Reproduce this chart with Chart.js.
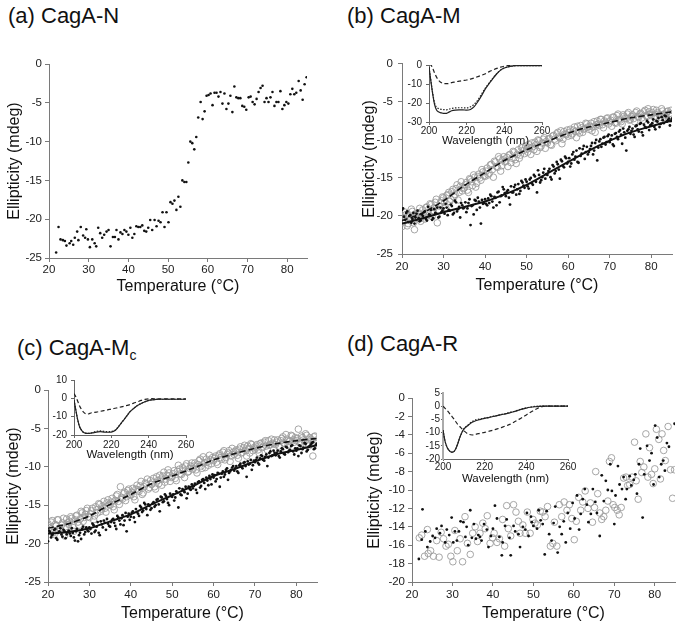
<!DOCTYPE html>
<html>
<head>
<meta charset="utf-8">
<script src="https://cdn.jsdelivr.net/npm/chart.js@4.4.1/dist/chart.umd.min.js"></script>
<style>
  body { margin: 0; background: #fff; width: 683px; height: 628px; position: relative; overflow: hidden; font-family: 'Liberation Sans', Arial, sans-serif; }
  .panel { position: absolute; }
  .ttl { position: absolute; font-size: 22px; line-height: 1; color: #111; white-space: nowrap; }
  .ttl sub { font-size: 14px; vertical-align: -5px; line-height: 0; }
</style>
</head>
<body>
<div class="ttl" style="left:8px;top:5px">(a) CagA-N</div>
<div class="ttl" style="left:347px;top:5px">(b) CagA-M</div>
<div class="ttl" style="left:17px;top:337px">(c) CagA-M<sub>c</sub></div>
<div class="ttl" style="left:347px;top:333px">(d) CagA-R</div>
<script>
// ---- tick labels ----
const tempTicks = [20, 30, 40, 50, 60, 70, 80];
const ellipTicks = [-25, -20, -15, -10, -5, 0];
const ellipTicksD = [-20, -18, -16, -14, -12, -10, -8, -6, -4, -2, 0];
const waveTicks = [200, 220, 240, 260];
const insetTicksB = [-30, -20, -10, 0];
const insetTicksC = [-20, -10, 0, 10];
const insetTicksD = [-20, -15, -10, -5, 0, 5];

// ---- (a) CagA-N ----
const aTemp = [21.8,22.4,22.9,23.5,24.0,24.4,25.2,25.6,26.1,26.5,
  27.1,27.4,28.0,28.6,29.1,29.4,29.8,30.3,30.9,31.5,
  31.9,32.4,32.9,33.4,33.9,34.5,35.0,35.5,36.1,36.6,
  37.0,37.5,38.0,38.5,39.0,39.5,40.0,40.5,41.0,41.5,
  42.0,42.5,43.0,43.5,44.0,44.5,45.0,45.5,46.0,46.6,
  47.1,47.6,48.1,48.6,49.1,49.6,50.1,50.6,51.1,51.6,
  52.1,52.6,53.1,53.6,54.1,54.6,55.1,55.6,56.1,56.6,
  57.1,57.6,58.2,58.7,59.2,59.7,60.2,60.7,61.2,61.7,
  62.2,62.7,63.2,63.7,64.2,64.7,65.2,65.7,66.2,66.7,
  67.2,67.7,68.2,68.7,69.2,69.7,70.3,70.8,71.3,71.8,
  72.3,72.8,73.3,73.8,74.3,74.8,75.3,75.8,76.3,76.8,
  77.3,77.8,78.3,78.8,79.3,79.8,80.3,80.8,81.3,81.8,
  82.3,82.9,83.4,83.9,84.4,84.9];
const aVal = [-24.3,-21.0,-22.6,-22.7,-22.8,-23.4,-23.1,-22.8,-23.3,-22.4,
  -21.6,-22.7,-21.0,-22.1,-22.4,-21.3,-22.6,-23.6,-22.6,-23.1,
  -23.5,-21.1,-21.8,-22.4,-22.0,-21.6,-21.4,-23.5,-22.3,-22.3,
  -21.4,-22.6,-21.7,-21.9,-21.4,-21.6,-22.0,-21.1,-22.4,-21.9,
  -20.9,-21.0,-21.0,-20.8,-21.5,-21.6,-21.1,-20.1,-21.4,-20.1,
  -20.9,-20.2,-20.4,-19.1,-21.0,-19.1,-20.4,-17.8,-18.0,-17.6,
  -18.8,-17.1,-18.4,-15.0,-15.2,-15.2,-12.7,-10.0,-10.2,-11.0,
  -9.4,-6.9,-4.9,-7.1,-6.1,-4.1,-4.0,-3.8,-5.3,-3.7,
  -3.7,-4.2,-3.6,-5.1,-3.8,-5.8,-5.1,-4.1,-6.2,-2.9,
  -4.3,-4.4,-4.4,-5.4,-5.5,-5.9,-4.3,-4.2,-4.9,-5.2,
  -4.5,-3.6,-3.1,-2.8,-4.9,-4.4,-4.9,-4.3,-3.6,-5.4,
  -4.9,-4.9,-3.5,-5.8,-5.3,-4.9,-5.1,-3.9,-3.2,-3.9,
  -3.7,-2.2,-3.4,-4.6,-2.6,-1.7];

// ---- temperature scan grids for (b) and (c): two interleaved scans ----
const tempsScan = [20,20.5,21,21.5,22,22.5,23,23.5,24,24.5,
  25,25.5,26,26.5,27,27.5,28,28.5,29,29.5,
  30,30.5,31,31.5,32,32.5,33,33.5,34,34.5,
  35,35.5,36,36.5,37,37.5,38,38.5,39,39.5,
  40,40.5,41,41.5,42,42.5,43,43.5,44,44.5,
  45,45.5,46,46.5,47,47.5,48,48.5,49,49.5,
  50,50.5,51,51.5,52,52.5,53,53.5,54,54.5,
  55,55.5,56,56.5,57,57.5,58,58.5,59,59.5,
  60,60.5,61,61.5,62,62.5,63,63.5,64,64.5,
  65,65.5,66,66.5,67,67.5,68,68.5,69,69.5,
  70,70.5,71,71.5,72,72.5,73,73.5,74,74.5,
  75,75.5,76,76.5,77,77.5,78,78.5,79,79.5,
  80,80.5,81,81.5,82,82.5,83,83.5,84,84.5,
  85];
const tempsScan2 = [20.25,20.75,21.25,21.75,22.25,22.75,23.25,23.75,24.25,24.75,
  25.25,25.75,26.25,26.75,27.25,27.75,28.25,28.75,29.25,29.75,
  30.25,30.75,31.25,31.75,32.25,32.75,33.25,33.75,34.25,34.75,
  35.25,35.75,36.25,36.75,37.25,37.75,38.25,38.75,39.25,39.75,
  40.25,40.75,41.25,41.75,42.25,42.75,43.25,43.75,44.25,44.75,
  45.25,45.75,46.25,46.75,47.25,47.75,48.25,48.75,49.25,49.75,
  50.25,50.75,51.25,51.75,52.25,52.75,53.25,53.75,54.25,54.75,
  55.25,55.75,56.25,56.75,57.25,57.75,58.25,58.75,59.25,59.75,
  60.25,60.75,61.25,61.75,62.25,62.75,63.25,63.75,64.25,64.75,
  65.25,65.75,66.25,66.75,67.25,67.75,68.25,68.75,69.25,69.75,
  70.25,70.75,71.25,71.75,72.25,72.75,73.25,73.75,74.25,74.75,
  75.25,75.75,76.25,76.75,77.25,77.75,78.25,78.75,79.25,79.75,
  80.25,80.75,81.25,81.75,82.25,82.75,83.25,83.75,84.25,84.75];
const fitTemps = [20, 25, 30, 35, 40, 45, 50, 55, 60, 65, 70, 75, 80, 85];

// ---- (b) CagA-M ----
const bFilled = [-19.2,-20.1,-19.6,-20.8,-19.9,-20.4,-21.0,-19.7,-20.3,-20.6,
  -20.0,-19.4,-20.6,-19.8,-19.2,-20.3,-19.6,-18.9,-20.1,-19.5,
  -19.0,-18.4,-19.9,-19.3,-18.7,-19.6,-18.2,-19.1,-20.2,-18.6,
  -18.9,-19.5,-18.3,-21.2,-18.6,-17.9,-19.2,-18.1,-21.0,-18.4,
  -17.8,-18.6,-18.3,-17.4,-18.9,-17.6,-16.9,-18.2,-17.3,-16.5,
  -17.4,-16.6,-18.5,-16.9,-16.2,-17.2,-15.8,-16.7,-15.6,-16.3,
  -15.5,-16.4,-15.0,-15.9,-14.8,-16.9,-14.6,-15.3,-14.3,-15.1,
  -14.6,-13.8,-15.2,-13.5,-14.1,-13.2,-15.1,-12.8,-13.6,-12.4,
  -12.9,-13.5,-11.9,-12.6,-11.4,-13.0,-12.1,-11.2,-12.5,-10.9,
  -11.6,-10.8,-11.9,-10.4,-12.7,-10.2,-10.9,-9.7,-10.6,-9.5,
  -10.3,-9.4,-10.8,-9.1,-9.9,-8.7,-10.5,-9.0,-11.4,-8.6,
  -9.2,-8.5,-9.6,-8.1,-8.9,-7.8,-9.4,-8.3,-7.5,-8.7,
  -8.0,-7.3,-8.6,-7.6,-8.3,-7.0,-7.8,-6.9,-7.4,-8.1,
  -7.2];
const bFilled2 = [-19.0,-20.5,-19.4,-20.0,-20.9,-19.6,-20.2,-19.3,-20.7,-19.8,
  -19.5,-20.4,-18.8,-19.9,-20.5,-19.1,-19.7,-20.2,-18.9,-19.3,
  -19.7,-18.9,-19.2,-18.5,-19.8,-18.0,-19.4,-18.8,-18.3,-19.0,
  -18.2,-19.0,-17.8,-18.7,-19.8,-18.0,-17.6,-18.9,-17.9,-18.3,
  -18.4,-17.7,-17.2,-18.1,-17.5,-18.6,-16.8,-17.4,-16.2,-17.0,
  -16.8,-17.6,-16.1,-16.9,-15.9,-16.5,-17.1,-15.4,-16.0,-15.2,
  -16.1,-15.2,-15.7,-14.6,-15.5,-14.0,-15.6,-14.9,-13.8,-14.5,
  -14.1,-14.9,-13.3,-14.4,-12.9,-13.9,-12.6,-13.4,-12.2,-13.1,
  -12.4,-13.1,-11.6,-12.2,-12.9,-11.1,-11.8,-10.8,-11.6,-11.9,
  -11.2,-10.4,-11.4,-10.0,-11.0,-9.9,-10.5,-9.6,-10.3,-9.3,
  -9.9,-10.6,-9.2,-9.6,-8.9,-9.3,-8.5,-9.7,-8.8,-8.3,
  -8.8,-9.3,-8.2,-8.6,-7.9,-9.0,-8.0,-8.4,-7.7,-8.1,
  -7.8,-8.3,-7.5,-7.1,-7.9,-7.4,-6.8,-7.6,-7.2,-7.5];
const bOpen = [-21.4,-20.2,-19.8,-21.0,-20.5,-19.4,-21.8,-20.1,-19.6,-20.7,
  -19.2,-20.4,-18.8,-19.9,-18.5,-19.3,-18.2,-20.9,-18.7,-18.0,
  -17.6,-18.9,-17.2,-18.1,-16.8,-17.5,-16.4,-17.9,-16.1,-16.7,
  -16.3,-15.6,-16.9,-15.2,-16.0,-14.9,-15.7,-14.5,-15.3,-14.2,
  -14.8,-13.7,-14.4,-13.2,-14.9,-12.9,-13.6,-12.5,-13.4,-12.2,
  -12.8,-13.5,-11.9,-12.4,-11.6,-13.1,-11.3,-12.0,-11.0,-11.8,
  -11.2,-10.6,-11.9,-10.9,-10.3,-11.5,-10.1,-10.8,-9.9,-11.1,
  -10.4,-9.8,-10.7,-9.4,-10.1,-9.0,-9.7,-10.5,-8.9,-9.3,
  -9.5,-8.6,-9.2,-8.3,-9.7,-8.8,-8.1,-9.0,-8.5,-7.9,
  -8.6,-7.8,-8.3,-9.0,-7.5,-8.1,-7.3,-8.4,-7.7,-7.1,
  -7.6,-8.2,-7.0,-7.8,-6.6,-7.4,-7.9,-6.9,-7.2,-6.4,
  -7.3,-6.7,-7.6,-6.2,-7.0,-6.5,-7.4,-6.1,-6.9,-6.3,
  -6.8,-6.0,-7.2,-6.4,-6.7,-5.9,-6.6,-7.1,-6.2,-6.5,
  -6.9];
const bOpen2 = [-20.8,-19.5,-21.3,-20.0,-19.1,-20.9,-19.8,-20.3,-19.0,-20.1,
  -19.9,-18.9,-19.5,-18.4,-20.1,-18.9,-17.8,-19.2,-18.3,-17.5,
  -18.2,-17.3,-16.9,-17.8,-16.5,-17.2,-15.9,-16.9,-15.5,-16.4,
  -15.9,-16.6,-15.1,-15.5,-14.6,-16.2,-14.8,-15.0,-13.9,-14.7,
  -14.1,-14.6,-13.3,-13.9,-12.8,-13.5,-12.2,-14.1,-12.6,-12.9,
  -12.3,-12.0,-13.0,-11.5,-12.6,-11.9,-12.4,-11.0,-11.4,-10.8,
  -11.6,-11.0,-10.4,-11.3,-10.6,-10.0,-11.0,-10.4,-9.7,-10.2,
  -9.9,-10.6,-9.5,-9.9,-9.2,-9.6,-8.8,-9.9,-9.2,-8.7,
  -9.0,-9.4,-8.7,-8.9,-8.2,-9.1,-8.4,-8.6,-7.8,-8.3,
  -8.2,-8.8,-7.6,-8.0,-7.9,-7.3,-8.0,-7.5,-7.2,-7.9,
  -7.4,-7.0,-7.7,-6.8,-7.3,-7.6,-6.7,-7.1,-6.6,-7.4,
  -6.9,-7.2,-6.4,-6.9,-6.6,-7.1,-6.3,-6.8,-5.9,-6.6,
  -6.4,-6.9,-6.1,-6.6,-7.0,-6.2,-6.8,-6.3,-7.3,-6.1];
const bFitFilled = [-21.0, -20.3, -19.5, -18.8, -18.1, -17.1, -15.9, -14.4, -12.9, -11.4, -10.1, -9.0, -8.2, -7.4];
const bFitOpen = [-20.6, -19.6, -18.0, -16.0, -14.3, -12.6, -11.3, -10.2, -9.1, -8.3, -7.7, -7.1, -6.7, -6.3];

// ---- (c) CagA-Mc ----
const cFilled = [-19.7,-18.5,-18.9,-18.2,-19.3,-18.6,-18.0,-19.1,-18.4,-18.8,
  -18.3,-19.0,-18.6,-19.6,-18.1,-18.9,-19.4,-17.8,-18.5,-18.2,
  -17.9,-18.7,-17.6,-18.3,-17.2,-18.9,-17.5,-17.0,-18.2,-17.4,
  -17.8,-16.9,-17.3,-18.1,-16.6,-17.5,-16.3,-17.0,-18.4,-16.1,
  -16.5,-15.8,-17.2,-15.9,-16.4,-15.3,-15.7,-14.9,-16.3,-15.1,
  -15.4,-14.6,-15.0,-14.2,-15.8,-14.0,-14.5,-13.8,-14.7,-13.5,
  -13.9,-14.4,-13.2,-15.3,-13.6,-12.9,-13.3,-14.1,-12.6,-13.0,
  -12.8,-12.2,-13.4,-11.9,-12.5,-11.6,-12.9,-11.8,-11.2,-12.3,
  -11.4,-11.9,-10.8,-12.6,-10.9,-11.3,-10.4,-11.7,-10.6,-10.1,
  -10.5,-9.9,-10.8,-9.6,-10.2,-9.4,-11.3,-9.7,-9.1,-9.8,
  -9.4,-8.8,-9.7,-8.5,-9.1,-8.7,-9.9,-8.2,-8.6,-7.9,
  -8.5,-7.9,-8.8,-7.6,-8.3,-7.4,-8.1,-7.8,-7.2,-8.4,
  -7.9,-8.6,-7.3,-7.7,-6.9,-8.0,-7.4,-7.1,-6.8,-7.6,
  -7.0];
const cFilled2 = [-18.3,-19.2,-18.7,-18.1,-19.5,-18.4,-18.8,-18.2,-19.3,-18.5,
  -18.7,-18.0,-19.2,-18.4,-19.7,-18.6,-18.1,-18.8,-17.9,-18.4,
  -18.1,-17.4,-18.5,-17.8,-18.6,-17.1,-17.9,-17.3,-16.8,-17.7,
  -17.2,-16.8,-17.7,-16.4,-17.0,-16.7,-17.6,-16.0,-16.5,-16.9,
  -16.0,-16.6,-15.5,-16.1,-15.1,-15.9,-14.7,-15.5,-14.9,-15.6,
  -14.8,-15.2,-14.3,-14.9,-13.9,-14.6,-13.6,-14.2,-15.0,-13.8,
  -13.6,-14.0,-13.4,-12.8,-13.7,-13.1,-12.6,-13.5,-12.9,-12.3,
  -12.5,-13.0,-12.0,-12.7,-11.7,-12.1,-11.4,-12.4,-11.6,-11.0,
  -11.1,-11.6,-10.9,-11.4,-10.6,-11.0,-10.2,-10.8,-10.4,-9.9,
  -10.2,-10.6,-9.8,-10.0,-9.5,-9.9,-9.3,-9.6,-10.4,-9.2,
  -9.1,-9.5,-8.9,-8.6,-9.2,-8.4,-8.8,-8.0,-8.5,-8.2,
  -8.2,-8.6,-8.0,-7.7,-8.4,-7.5,-7.9,-7.3,-8.0,-7.6,
  -7.6,-7.2,-8.2,-7.5,-7.0,-7.8,-7.3,-6.9,-7.7,-7.1];
const cOpen = [-17.4,-18.3,-17.0,-18.8,-17.7,-16.9,-18.1,-17.3,-19.0,-16.8,
  -17.5,-16.5,-17.9,-16.9,-16.3,-17.6,-15.8,-17.1,-16.2,-15.4,
  -16.6,-15.7,-16.9,-15.2,-16.0,-14.9,-15.5,-14.5,-15.9,-14.3,
  -15.0,-14.1,-15.6,-13.8,-14.5,-12.6,-14.2,-13.3,-13.9,-12.9,
  -13.7,-12.8,-14.3,-12.4,-13.2,-11.9,-13.4,-12.1,-11.6,-12.7,
  -12.3,-11.5,-12.9,-11.8,-11.1,-12.4,-10.7,-11.6,-10.4,-11.9,
  -11.3,-10.5,-11.8,-9.8,-10.9,-10.1,-11.4,-9.6,-10.6,-9.9,
  -10.3,-9.5,-10.8,-9.2,-9.9,-8.7,-10.1,-9.4,-8.5,-9.6,
  -9.2,-8.6,-9.7,-8.3,-9.0,-7.9,-8.8,-8.2,-9.3,-7.6,
  -8.4,-7.8,-8.9,-7.4,-8.1,-7.2,-8.6,-7.6,-7.0,-7.9,
  -7.7,-7.1,-8.2,-6.9,-7.4,-6.6,-7.8,-7.2,-6.4,-7.0,
  -7.1,-6.5,-7.5,-6.3,-6.9,-5.8,-7.2,-6.6,-6.0,-6.8,
  -6.6,-5.1,-7.0,-6.2,-6.7,-5.9,-7.3,-6.4,-8.6,-6.0,
  -6.5];
const cOpen2 = [-17.9,-17.2,-18.6,-17.5,-16.9,-18.0,-17.6,-16.7,-17.8,-17.3,
  -17.1,-16.7,-18.4,-16.4,-17.2,-16.8,-16.0,-16.6,-15.7,-16.5,
  -16.1,-15.4,-16.4,-15.6,-14.8,-15.8,-15.1,-15.4,-14.7,-14.9,
  -14.6,-15.2,-14.4,-13.6,-14.9,-14.0,-13.5,-14.4,-13.1,-13.6,
  -13.3,-13.9,-12.9,-13.0,-12.5,-13.6,-12.6,-12.2,-12.9,-11.8,
  -12.0,-12.6,-11.3,-12.2,-11.6,-11.2,-12.0,-11.1,-10.8,-11.4,
  -10.9,-11.5,-10.6,-10.3,-11.0,-10.5,-9.9,-10.7,-10.2,-9.5,
  -9.9,-10.4,-9.7,-9.0,-10.2,-9.5,-9.0,-9.8,-9.1,-8.8,
  -8.9,-9.4,-8.5,-8.8,-8.1,-9.1,-8.4,-7.9,-8.6,-8.1,
  -8.0,-8.5,-7.7,-8.2,-7.5,-7.9,-7.3,-8.2,-7.1,-7.5,
  -7.3,-7.8,-7.0,-7.5,-6.8,-7.3,-6.6,-7.1,-6.9,-6.5,
  -6.8,-7.3,-6.6,-6.1,-7.0,-6.4,-6.7,-5.9,-6.5,-6.2,
  -6.3,-6.8,-6.0,-6.5,-5.7,-6.9,-6.2,-6.6,-6.1,-7.0];
const cFitFilled = [-18.7, -18.5, -18.0, -17.1, -16.2, -14.9, -13.7, -12.5, -11.2, -10.3, -9.3, -8.4, -7.8, -7.2];
const cFitOpen = [-18.0, -17.4, -16.4, -14.9, -13.6, -12.2, -11.2, -10.2, -9.1, -8.3, -7.6, -7.0, -6.6, -6.3];

// ---- (d) CagA-R ----
const dFilledT = [21.7,22.4,22.6,23.3,23.8,24.5,25.1,25.7,26.1,26.9,
  27.3,28.2,28.6,29.2,29.8,30.2,30.6,31.1,31.6,32.0,
  32.7,33.2,33.5,33.9,34.4,34.8,35.3,35.8,36.4,36.8,
  37.2,37.8,38.5,38.9,39.5,40.0,40.5,41.0,41.6,42.2,
  42.4,43.0,43.4,44.1,44.4,45.1,45.5,46.3,46.7,47.4,
  48.0,48.4,48.8,49.4,49.6,50.0,50.9,51.3,51.8,52.3,
  52.8,53.3,53.9,54.5,55.0,55.4,56.0,56.5,57.0,57.5,
  58.0,58.5,59.1,59.7,60.2,60.8,61.3,61.7,62.2,62.7,
  63.2,63.6,64.2,64.7,65.3,65.7,66.4,66.9,67.4,67.9,
  68.4,69.0,69.4,70.0,70.3,70.9,71.3,71.9,72.3,72.8,
  73.1,73.8,74.2,74.8,75.2,75.6,76.1,76.4,77.0,77.4,
  78.1,78.7,79.2,79.7,80.1,80.6,81.1,81.6,82.1,82.5,
  83.0,83.5,84.9];
const dFilledV = [-17.5,-15.4,-12.1,-14.5,-16.2,-15.6,-15.0,-15.2,-14.2,-14.7,
  -13.9,-15.7,-14.3,-14.9,-13.0,-15.7,-14.5,-15.5,-14.5,-13.4,
  -13.5,-15.1,-14.0,-16.0,-12.2,-15.2,-13.7,-15.3,-14.9,-15.1,
  -15.5,-13.7,-14.3,-16.2,-15.0,-14.2,-11.7,-13.1,-15.1,-17.1,
  -15.7,-13.9,-13.2,-15.2,-17.1,-13.9,-14.5,-14.8,-16.2,-14.0,
  -14.3,-12.5,-15.0,-12.9,-13.5,-13.9,-14.2,-12.2,-13.3,-13.7,
  -17.0,-12.3,-14.8,-15.5,-13.6,-11.8,-16.8,-14.0,-14.8,-13.4,
  -15.7,-12.5,-14.2,-11.4,-13.1,-10.6,-14.3,-12.6,-11.0,-9.9,
  -11.6,-13.5,-12.6,-9.9,-11.3,-12.5,-15.0,-8.4,-11.2,-9.0,
  -10.0,-7.2,-10.1,-13.7,-10.6,-7.4,-9.4,-9.9,-8.6,-11.0,
  -9.9,-8.5,-9.5,-8.9,-8.3,-10.4,-7.2,-5.5,-13.0,-8.3,
  -5.2,-6.8,-6.0,-9.4,-3.0,-4.3,-8.6,-7.2,-6.8,-7.9,
  -4.9,-5.3,-2.8];
const dOpenT = [21.8,22.4,23.1,23.8,24.0,24.6,25.3,26.1,26.7,27.2,
  27.8,28.4,29.0,29.6,30.1,30.6,31.2,31.9,32.5,33.1,
  33.7,34.4,35.0,35.6,36.2,36.8,37.5,38.1,38.6,39.3,
  39.9,40.3,41.0,41.6,42.4,42.9,43.4,43.8,44.4,45.1,
  45.7,46.3,46.7,47.4,48.0,48.5,49.2,49.9,50.4,51.0,
  51.7,52.3,52.9,53.5,54.2,54.8,55.2,55.8,56.4,57.0,
  57.6,58.3,58.9,59.5,60.1,60.6,61.2,61.7,62.2,62.8,
  63.5,64.1,64.6,65.1,65.4,65.9,66.4,66.9,67.4,67.9,
  68.4,68.8,69.3,69.7,70.1,70.7,71.2,71.7,72.3,72.9,
  73.3,73.8,74.4,75.0,75.4,75.9,76.4,76.8,77.3,77.8,
  78.3,78.7,79.2,79.6,80.0,80.4,81.0,81.4,81.8,82.2,
  82.6,83.3,83.9,84.4,84.9];
const dOpenV = [-15.2,-14.9,-17.2,-14.3,-16.9,-16.6,-17.2,-15.5,-17.3,-14.6,
  -15.3,-16.1,-15.9,-17.2,-17.8,-14.4,-16.6,-15.3,-17.8,-12.9,
  -15.8,-17.0,-14.7,-14.0,-15.6,-14.7,-13.6,-14.2,-12.8,-15.8,
  -15.2,-14.7,-15.7,-15.3,-13.2,-16.1,-11.7,-14.2,-15.0,-11.6,
  -12.4,-13.4,-14.7,-13.8,-14.7,-12.4,-14.7,-13.2,-13.6,-13.8,
  -12.3,-12.4,-12.9,-11.8,-16.1,-15.8,-13.5,-16.1,-11.6,-12.9,
  -11.3,-12.2,-11.6,-13.1,-15.4,-13.4,-10.8,-12.2,-11.3,-10.1,
  -12.0,-11.4,-13.5,-11.9,-8.0,-10.4,-12.5,-13.2,-12.9,-12.2,
  -11.2,-6.9,-6.5,-11.6,-11.9,-12.2,-12.7,-11.9,-8.7,-8.6,
  -9.5,-9.4,-8.6,-4.8,-9.0,-11.0,-6.9,-8.1,-7.5,-3.9,
  -8.6,-5.4,-8.3,-9.3,-7.7,-3.4,-4.5,-8.8,-3.9,-5.7,
  -6.8,-3.1,-7.8,-10.9,-7.8];

// ---- CD spectra insets ----
const waves = [200,201,202,203,204,205,206,207,208,209,210,212,214,216,218,220,222,224,226,228,230,232,234,236,238,240,242,244,246,248,250,255,260];
const specBSolid = [-1.2,-8.5,-15.5,-21.0,-23.7,-24.6,-25.1,-25.3,-25.5,-25.5,-25.1,-24.1,-23.7,-23.6,-23.6,-23.8,-23.4,-21.9,-19.2,-16.0,-12.4,-9.7,-7.0,-4.6,-2.7,-1.6,-1.0,-0.6,-0.4,-0.3,-0.3,-0.3,-0.3];
const specBDotted = [-1.2,-8.3,-15.0,-20.2,-22.2,-22.9,-23.2,-23.4,-23.5,-23.6,-23.4,-22.9,-22.6,-22.5,-22.5,-22.6,-22.0,-20.7,-18.3,-15.2,-12.0,-9.4,-6.8,-4.5,-2.7,-1.6,-1.0,-0.6,-0.4,-0.3,-0.3,-0.3,-0.3];
const specBDashed = [0.3,0,-1.8,-4.3,-6.4,-7.9,-8.9,-9.5,-9.8,-9.8,-9.8,-9.3,-8.9,-8.5,-8.2,-7.9,-7.4,-6.8,-6.1,-5.4,-4.6,-3.5,-2.6,-1.8,-1.1,-0.6,-0.3,-0.2,-0.1,0,0,0,0];
const specCSolid = [-0.9,-6.5,-11.8,-15.5,-17.3,-18.5,-19.0,-19.1,-19.1,-19.0,-18.8,-18.4,-18.2,-18.4,-18.5,-18.4,-17.6,-15.3,-12.6,-10.0,-7.3,-5.5,-3.9,-2.8,-1.9,-1.1,-0.8,-0.6,-0.5,-0.5,-0.5,-0.5,-0.5];
const specCDotted = [-0.9,-6.5,-11.8,-15.5,-17.3,-18.5,-19.0,-19.1,-19.1,-19.0,-18.6,-18.0,-17.8,-18.0,-18.2,-18.1,-17.4,-15.2,-12.6,-10.0,-7.3,-5.5,-3.9,-2.8,-1.9,-1.1,-0.8,-0.6,-0.5,-0.5,-0.5,-0.5,-0.5];
const specCDashed = [2.6,0.8,-1.6,-4.2,-6.0,-7.4,-8.3,-8.6,-8.4,-8.0,-7.8,-7.5,-7.1,-6.7,-6.3,-5.8,-5.4,-5.0,-4.5,-4.0,-3.4,-2.6,-1.9,-1.1,-0.6,-0.3,-0.2,-0.3,-0.3,-0.3,-0.3,-0.3,-0.3];
const specDSolid = [-9.1,-13.3,-15.6,-16.8,-17.4,-17.3,-16.3,-14.4,-12.0,-10.1,-8.7,-7.3,-6.1,-5.4,-5.0,-4.6,-4.3,-3.9,-3.6,-3.2,-2.9,-2.5,-2.1,-1.6,-1.1,-0.7,-0.4,-0.2,-0.1,0,0,0,0];
const specDDotted = [-9.1,-13.3,-15.6,-16.8,-17.4,-17.3,-16.3,-14.4,-12.0,-10.1,-8.6,-7.1,-5.8,-5.1,-4.8,-4.5,-4.2,-3.8,-3.5,-3.1,-2.8,-2.4,-2.0,-1.5,-1.0,-0.6,-0.3,-0.1,0,0,0,0,0];
const specDDashed = [0,-0.8,-1.6,-2.6,-3.6,-4.6,-5.7,-6.8,-7.7,-8.5,-9.3,-10.5,-10.9,-10.6,-10.2,-9.9,-9.5,-9.1,-8.6,-8.1,-7.5,-6.9,-6.1,-5.2,-4.3,-3.3,-2.3,-1.4,-0.6,-0.1,0,0,0];

Chart.defaults.font.family = "'Liberation Sans', Arial, sans-serif";
Chart.defaults.color = '#222';
Chart.defaults.animation = false;
Chart.defaults.events = [];

function pts(xs, ys) {
    return xs.map((x, i) => ({ x: x, y: ys[i] }));
}

// box = chart area in page pixels plus room for the axes
function mount(b) {
    const div = document.createElement('div');
    div.className = 'panel';
    div.style.left = (b.l - b.yw) + 'px';
    div.style.top = (b.t - b.pt) + 'px';
    div.style.width = (b.r - b.l + b.yw + b.pr) + 'px';
    div.style.height = (b.b - b.t + b.pt + b.xh) + 'px';
    const c = document.createElement('canvas');
    div.appendChild(c);
    document.body.appendChild(div);
    return c;
}

function axes(b, o) {
    const axisColor = o.axisColor || '#7a7a7a';
    return {
        x: {
            type: 'linear', min: o.xMin, max: o.xMax,
            afterBuildTicks: s => { s.ticks = o.xTicks.map(v => ({ value: v })); },
            afterFit: s => { s.height = b.xh; },
            border: { color: axisColor, width: 1 },
            grid: { drawOnChartArea: false, tickLength: o.tl, tickColor: axisColor, color: axisColor },
            ticks: { autoSkip: false, maxRotation: 0, padding: o.xPad, font: { size: o.tickSize }, color: '#222' },
            title: { display: true, text: o.xTitle, font: { size: o.titleSize }, color: '#111', padding: { top: 0, bottom: 0 } }
        },
        y: {
            type: 'linear', min: o.yMin, max: o.yMax,
            afterBuildTicks: s => { s.ticks = o.yTicks.map(v => ({ value: v })); },
            afterFit: s => { s.width = b.yw; },
            border: { color: o.yBorderColor || axisColor, width: o.yBorderWidth || 1 },
            grid: { drawOnChartArea: false, tickLength: o.tl, tickColor: axisColor, color: axisColor },
            ticks: { autoSkip: false, padding: o.yPad, font: { size: o.tickSize }, color: '#222' },
            title: { display: !!o.yTitle, text: o.yTitle, font: { size: o.titleSize }, color: '#111', padding: { top: o.yTitlePad || 0, bottom: 0 } }
        }
    };
}

function build(b, datasets, o) {
    new Chart(mount(b), {
        type: 'scatter',
        data: { datasets: datasets },
        options: {
            responsive: true,
            maintainAspectRatio: false,
            layout: { padding: { top: b.pt, right: b.pr, left: 0, bottom: 0 } },
            plugins: { legend: { display: false }, tooltip: { enabled: false } },
            scales: axes(b, o)
        }
    });
}

const dots = (data, r) => ({ data: data, pointRadius: r || 1.4, pointBackgroundColor: '#111', pointBorderWidth: 0 });
const rings = data => ({ data: data, pointRadius: 3.3, pointBackgroundColor: 'rgba(0,0,0,0)', pointBorderColor: '#9c9c9c', pointBorderWidth: 0.9 });
const line = (data, w, dash) => ({ data: data, showLine: true, borderColor: '#111', borderWidth: w, borderDash: dash || [], pointRadius: 0, tension: 0.3 });
const spec = (data, dash, w) => ({ data: data, showLine: true, borderColor: '#222', borderWidth: w || 1.2, borderDash: dash || [], pointRadius: 0, cubicInterpolationMode: 'monotone' });

const mainOpts = { xMin: 20, xMax: 85, xTicks: tempTicks, tl: 4, tickSize: 11.5, titleSize: 16,
    xTitle: 'Temperature (°C)', yTitle: 'Ellipticity (mdeg)' };
const insetOpts = { xMin: 200, xMax: 260, xTicks: waveTicks, tl: 3, tickSize: 10, titleSize: 11.5,
    xTitle: 'Wavelength (nm)', axisColor: '#666' };

// (a)
build({ l: 49, r: 307, t: 64, b: 258, yw: 49, pt: 10, pr: 8, xh: 38 },
    [dots(pts(aTemp, aVal), 1.3)],
    Object.assign({}, mainOpts, { yMin: -25, yMax: 0, yTicks: ellipTicks, xPad: 1, yPad: 3, yTitlePad: 5 }));

// (b)
build({ l: 402, r: 672, t: 62, b: 254, yw: 52, pt: 10, pr: 8, xh: 41 },
    [line(pts(fitTemps, bFitFilled), 2), line(pts(fitTemps, bFitOpen), 1.6, [6, 3]),
     dots(pts(tempsScan, bFilled)), dots(pts(tempsScan2, bFilled2)),
     rings(pts(tempsScan, bOpen)), rings(pts(tempsScan2, bOpen2))],
    Object.assign({}, mainOpts, { yMin: -25, yMax: 0, yTicks: ellipTicks, xPad: 2, yPad: 5, yTitlePad: 10 }));

// (c)
build({ l: 48, r: 317, t: 390, b: 582, yw: 48, pt: 10, pr: 8, xh: 41 },
    [line(pts(fitTemps, cFitFilled), 2), line(pts(fitTemps, cFitOpen), 1.6, [6, 3]),
     dots(pts(tempsScan, cFilled)), dots(pts(tempsScan2, cFilled2)),
     rings(pts(tempsScan, cOpen)), rings(pts(tempsScan2, cOpen2))],
    Object.assign({}, mainOpts, { yMin: -25, yMax: 0, yTicks: ellipTicks, xPad: 2, yPad: 3, yTitlePad: 4 }));

// (d)
build({ l: 412, r: 675, t: 398, b: 582, yw: 62, pt: 10, pr: 6, xh: 41 },
    [dots(pts(dFilledT, dFilledV)), rings(pts(dOpenT, dOpenV))],
    Object.assign({}, mainOpts, { yMin: -20, yMax: 0, yTicks: ellipTicksD, xPad: 2, yPad: 3, yTitlePad: 15 }));

// insets
build({ l: 429, r: 542, t: 63, b: 122, yw: 29, pt: 8, pr: 12, xh: 26 },
    [spec(pts(waves, specBSolid)), spec(pts(waves, specBDotted), [1.5, 1.5]), spec(pts(waves, specBDashed), [4, 2.5])],
    Object.assign({}, insetOpts, { yMin: -30, yMax: 0, yTicks: insetTicksB, xPad: 0, yPad: 4 }));

build({ l: 74, r: 186, t: 378, b: 435, yw: 30, pt: 8, pr: 12, xh: 27 },
    [spec(pts(waves, specCSolid)), spec(pts(waves, specCDotted), [1.5, 1.5]), spec(pts(waves, specCDashed), [4, 2.5])],
    Object.assign({}, insetOpts, { yMin: -20, yMax: 10, yTicks: insetTicksC, xPad: 1, yPad: 4 }));

build({ l: 443, r: 568, t: 393, b: 459, yw: 30, pt: 8, pr: 12, xh: 27 },
    [spec(pts(waves, specDSolid)), spec(pts(waves, specDDotted), [1.5, 1.5]), spec(pts(waves, specDDashed), [4, 2.5])],
    Object.assign({}, insetOpts, { yMin: -20, yMax: 5, yTicks: insetTicksD, xPad: 0, yPad: 1, tl: 2,
        yBorderColor: '#aaa', yBorderWidth: 2 }));
</script>
</body>
</html>
